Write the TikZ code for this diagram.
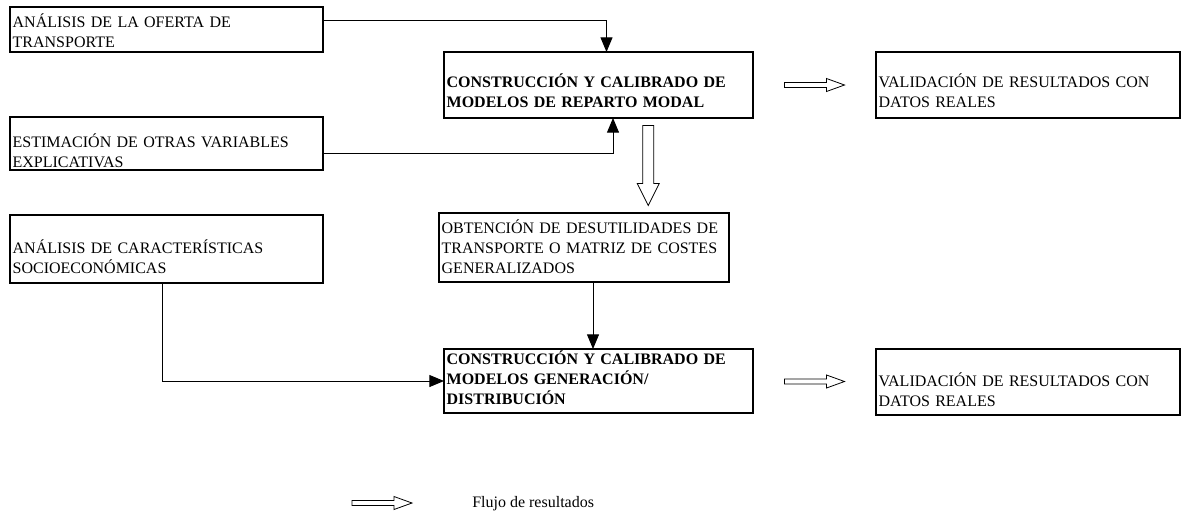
\documentclass[tikz,border=0pt]{standalone}
\usepackage{fontspec}
\setmainfont{Liberation Serif}
\usepackage{tikz}
\usetikzlibrary{arrows.meta,calc}

\tikzset{
  box/.style n args={4}{draw, line width=1.5pt, outer sep=0pt, anchor=north west,
    inner xsep=2pt, inner ysep=0pt, align=left,
    text width=#1, text height=#2, text depth=#3,
    font=\fontsize{12}{15}\selectfont#4},
  link/.style={line width=0.75pt, -{Triangle[length=11pt,width=9pt]}},
  pics/flow/.style n args={4}{code={
    \draw[line width=0.6pt] ({-#1/2},{-#2}) -- ({#1/2-#4},{-#2}) -- ({#1/2-#4},{-#3})
      -- ({#1/2},0) -- ({#1/2-#4},{#3}) -- ({#1/2-#4},{#2}) -- ({-#1/2},{#2}) -- cycle;
  }}
}

\begin{document}
\begin{tikzpicture}[x=0.75pt,y=-0.75pt]
                \useasboundingbox (0,0) rectangle (1184,522);

                \node[box={230.75pt}{15pt}{18.75pt}{}]   (oferta) at (10,7)    {ANÁLISIS DE LA OFERTA DE\\TRANSPORTE};
                \node[box={230.75pt}{22.5pt}{17.25pt}{}] (otras)  at (10,117)  {ESTIMACIÓN DE OTRAS VARIABLES\\EXPLICATIVAS};
                \node[box={230.75pt}{28.5pt}{22.5pt}{}]  (socio)  at (10,215)  {ANÁLISIS DE CARACTERÍSTICAS\\SOCIOECONÓMICAS};

                \node[box={227.75pt}{26.25pt}{23.25pt}{\bfseries}] (modal)  at (444,52)  {CONSTRUCCIÓN Y CALIBRADO DE\\MODELOS DE REPARTO MODAL};
                \node[box={213.5pt}{15pt}{36.75pt}{}]              (desut)  at (439,213) {OBTENCIÓN DE DESUTILIDADES DE\\TRANSPORTE O MATRIZ DE COSTES\\GENERALIZADOS};
                \node[box={227.75pt}{11.25pt}{36.75pt}{\bfseries}] (genera) at (444,349) {CONSTRUCCIÓN Y CALIBRADO DE\\MODELOS GENERACIÓN/\\DISTRIBUCIÓN};

                \node[box={224pt}{26.25pt}{23.25pt}{}] (valid1) at (876,52)  {VALIDACIÓN DE RESULTADOS CON\\DATOS REALES};
                \node[box={224pt}{27.75pt}{21.75pt}{}] (valid2) at (876,349) {VALIDACIÓN DE RESULTADOS CON\\DATOS REALES};

                \draw[link] ($(oferta.north east)+(0,13)$) -| ($(modal.north)+(8,0)$);
                \draw[link] ($(otras.east)+(0,9.5)$) -| ($(modal.south)+(14.5,0)$);
                \draw[link] ($(socio.south)+(-4.5,0)$) |- (genera.west);
                \coordinate (down) at ($(desut.south)+(9,0)$);
                \draw[link] (down) -- (down |- genera.north);

                \pic at ($(modal.east)!0.5!(valid1.west)$)  {flow={60}{2.5}{6.5}{18}};
                \pic at ($(genera.east)!0.5!(valid2.west)$) {flow={60}{2.5}{6.5}{18}};
                \pic[rotate=-90] at ($(modal.south)!0.5!(desut.north)+(57,0)$) {flow={80}{5.5}{11}{22}};

                \pic at (382,503) {flow={60}{2.5}{6.5}{18}};
                \node[anchor=base west, inner sep=0pt, font=\fontsize{12}{15}\selectfont] (legend) at (472,507) {Flujo de resultados};
            \end{tikzpicture}
\end{document}
